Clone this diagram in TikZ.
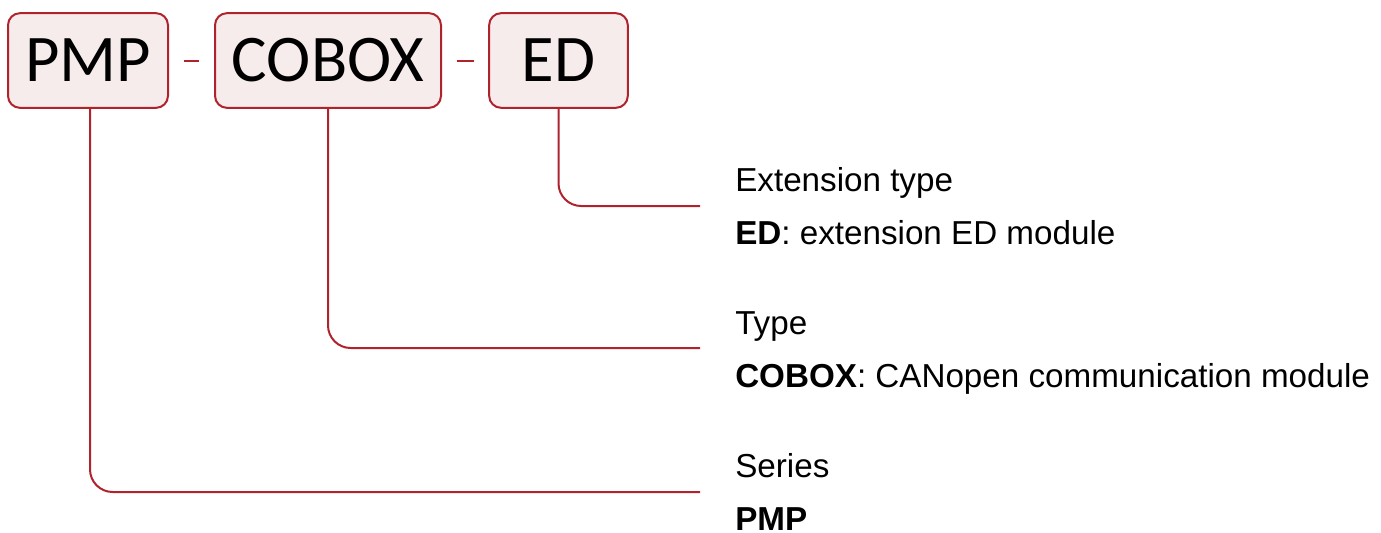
\documentclass[tikz,border=0pt]{standalone}
\usepackage{fontspec}
\setmainfont{Liberation Sans}
\newfontfamily\boxfont{Carlito}
\usetikzlibrary{positioning}
\definecolor{leadred}{RGB}{175,35,45}
\definecolor{boxpink}{RGB}{247,236,236}
\tikzset{
  codebox/.style = {draw = leadred, fill = boxpink, line width = 1.5pt, rounded corners = 9pt,
    minimum height = 71pt, inner sep = 0pt, font = \boxfont\fontsize{50}{50}\selectfont},
  lead/.style = {draw = leadred, line width = 1.5pt, rounded corners = 17pt},
  sep/.style = {draw = leadred, line width = 1.5pt},
  caption/.style = {anchor = base west, inner sep = 0pt, font = \fontsize{24.9}{25}\selectfont}
}
\begin{document}
\begin{tikzpicture}[x = 0.75pt, y = -0.75pt]
\useasboundingbox (0,0) rectangle (1381,532);
% code boxes
\node[codebox, minimum width = 120pt] (pmp) at (88,60.5) {PMP};
\node[codebox, minimum width = 169.5pt] (cobox) at (328,60.5) {COBOX};
\node[codebox, minimum width = 104pt] (ed) at (558.5,60.5) {ED};
\draw[sep] ([xshift = 11pt]pmp.east) -- ([xshift = -11pt]cobox.west);
\draw[sep] ([xshift = 11pt]cobox.east) -- ([xshift = -11pt]ed.west);
% captions
\node[caption] (edtitle) at (735,191) {Extension type};
\node[caption] (eddesc) at (735,244) {\textbf{ED}: extension ED module};
\node[caption] (cotitle) at (735,334) {Type};
\node[caption] (codesc) at (735,387) {\textbf{COBOX}: CANopen communication module};
\node[caption] (pmptitle) at (735,477) {Series};
\node[caption] (pmpdesc) at (735,530) {\textbf{PMP}};
% leads
\coordinate (edend) at (700,206);
\coordinate (coend) at (700,348);
\coordinate (pmpend) at (700,492);
\draw[lead] (ed.south) |- (edend);
\draw[lead] (cobox.south) |- (coend);
\draw[lead] ([xshift = 1.5pt]pmp.south) |- (pmpend);
\end{tikzpicture}
\end{document}
